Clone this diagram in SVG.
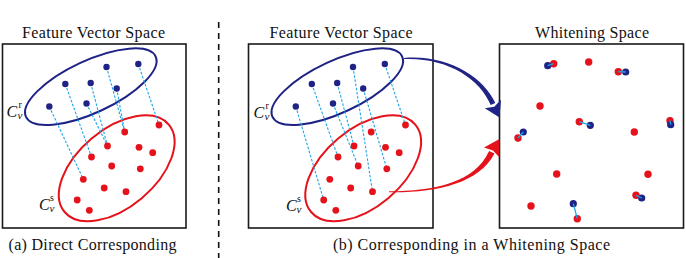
<svg xmlns="http://www.w3.org/2000/svg" xmlns:xlink="http://www.w3.org/1999/xlink" width="686" height="258" viewBox="0 0 686 258">
<style>
.box{fill:#fff;stroke:#1a1a1a;stroke-width:1.6}
text{font-family:'Liberation Serif','DejaVu Serif',serif;fill:#111}
.ttl{font-size:16px}
.cap{font-size:16px}
.it{font-style:italic}
.be{fill:none;stroke:#1f2385;stroke-width:2}
.re{fill:none;stroke:#e5121b;stroke-width:2}
.bd{fill:#1f2385}
.rd{fill:#e5121b}
.dl{stroke:#1ea5e9;stroke-width:1.1;stroke-dasharray:2.6 1.6;fill:none}
.sl{stroke:#1ea5e9;stroke-width:1.3;fill:none}
</style>
<defs>
<g id="ellipses">
<ellipse class="be" cx="90.8" cy="86.7" rx="71.5" ry="26" transform="rotate(-25 90.8 86.7)"/>
<ellipse class="re" cx="116.7" cy="168.3" rx="68" ry="39" transform="rotate(-40 116.7 168.3)"/>
</g>
<g id="dots">
<g class="bd">
<circle cx="49.3" cy="106.5" r="3.2"/><circle cx="65.3" cy="84" r="3.2"/><circle cx="90.7" cy="83" r="3.2"/>
<circle cx="86.5" cy="103.5" r="3.2"/><circle cx="106.5" cy="67" r="3.2"/><circle cx="116.7" cy="88.5" r="3.2"/>
<circle cx="138.3" cy="64" r="3.2"/>
</g>
<g class="rd">
<circle cx="159" cy="125" r="3.4"/><circle cx="124.7" cy="132" r="3.4"/><circle cx="107.5" cy="146" r="3.4"/>
<circle cx="139" cy="147.3" r="3.4"/><circle cx="152.7" cy="152.7" r="3.4"/><circle cx="91.5" cy="157" r="3.4"/>
<circle cx="111.7" cy="166" r="3.4"/><circle cx="140.3" cy="168.8" r="3.4"/><circle cx="83.3" cy="179.3" r="3.4"/>
<circle cx="104.2" cy="188" r="3.4"/><circle cx="126" cy="191.7" r="3.4"/><circle cx="77.2" cy="200" r="3.4"/>
<circle cx="89.3" cy="210.3" r="3.4"/>
</g>
</g>
</defs>

<!-- separator -->
<line x1="218.7" y1="22" x2="218.7" y2="258" stroke="#111" stroke-width="1.6" stroke-dasharray="6 5"/>

<!-- Panel (a) -->
<g id="panel-a">
<text class="ttl" x="93.5" y="37.5" text-anchor="middle" textLength="143" lengthAdjust="spacing">Feature Vector Space</text>
<rect class="box" x="2.5" y="44" width="183.5" height="184"/>
<use xlink:href="#ellipses"/>
<g id="corr-a">
<line class="dl" x1="49.3" y1="106.5" x2="83.3" y2="179.3"/>
<line class="dl" x1="65.3" y1="84" x2="91.5" y2="157"/>
<line class="dl" x1="90.7" y1="83" x2="107.5" y2="146"/>
<line class="dl" x1="86.5" y1="103.5" x2="107.5" y2="146"/>
<line class="dl" x1="106.5" y1="67" x2="124.7" y2="132"/>
<line class="dl" x1="116.7" y1="88.5" x2="124.7" y2="132"/>
<line class="dl" x1="138.3" y1="64" x2="159" y2="125"/>
</g>
<use xlink:href="#dots"/>
<text><tspan class="it" font-size="16" x="6.5" y="116.5">C</tspan><tspan class="it" font-size="11" x="17.5" y="118.5">v</tspan><tspan font-size="10" x="18.5" y="107.5">r</tspan></text>
<text><tspan class="it" font-size="16" x="39" y="210">C</tspan><tspan class="it" font-size="11" x="49.5" y="211.5">v</tspan><tspan font-size="10" x="50" y="201">s</tspan></text>
<text class="cap" x="92.5" y="249.5" text-anchor="middle" textLength="168" lengthAdjust="spacing">(a) Direct Corresponding</text>
</g>

<!-- Panel (b) feature space -->
<g id="panel-b">
<text class="ttl" x="341" y="37.5" text-anchor="middle" textLength="143" lengthAdjust="spacing">Feature Vector Space</text>
<rect class="box" x="248.5" y="44" width="184.5" height="184"/>
<g transform="translate(246.5,0)">
<use xlink:href="#ellipses"/>
<g id="corr-b">
<line class="dl" x1="49.3" y1="106.5" x2="77.2" y2="200"/>
<line class="dl" x1="65.3" y1="84" x2="91.5" y2="157"/>
<line class="dl" x1="90.7" y1="83" x2="107.5" y2="146"/>
<line class="dl" x1="86.5" y1="103.5" x2="111.7" y2="166"/>
<line class="dl" x1="106.5" y1="67" x2="126" y2="191.7"/>
<line class="dl" x1="116.7" y1="88.5" x2="140.3" y2="168.8"/>
<line class="dl" x1="138.3" y1="64" x2="159" y2="125"/>
</g>
<use xlink:href="#dots"/>
</g>
<text><tspan class="it" font-size="16" x="253.5" y="117.5">C</tspan><tspan class="it" font-size="11" x="264.5" y="119.5">v</tspan><tspan font-size="10" x="265.5" y="108.5">r</tspan></text>
<text><tspan class="it" font-size="16" x="286" y="211">C</tspan><tspan class="it" font-size="11" x="296.5" y="212.5">v</tspan><tspan font-size="10" x="297" y="202">s</tspan></text>
<text class="cap" x="471.5" y="249.5" text-anchor="middle" textLength="277" lengthAdjust="spacing">(b) Corresponding in a Whitening Space</text>
</g>

<!-- Whitening space -->
<g id="whitening">
<text class="ttl" x="592" y="37.5" text-anchor="middle" textLength="114" lengthAdjust="spacing">Whitening Space</text>
<rect class="box" x="499.5" y="44" width="184" height="184"/>
<g class="rd">
<circle cx="553.7" cy="63.7" r="3.7"/><circle cx="588.7" cy="62" r="3.7"/><circle cx="618.3" cy="71.7" r="3.7"/>
<circle cx="540" cy="106" r="3.7"/><circle cx="579.3" cy="121.7" r="3.7"/><circle cx="670" cy="120.7" r="3.7"/>
<circle cx="518" cy="138" r="3.7"/><circle cx="634.3" cy="132" r="3.7"/><circle cx="556.7" cy="174" r="3.7"/>
<circle cx="648" cy="174.3" r="3.7"/><circle cx="636" cy="195.3" r="3.7"/><circle cx="531" cy="206" r="3.7"/>
<circle cx="577.3" cy="218.7" r="3.7"/>
</g>
<g class="bd">
<circle cx="547.7" cy="65.7" r="3.6"/><circle cx="625.7" cy="72" r="3.6"/><circle cx="590.3" cy="125.3" r="3.6"/>
<circle cx="670.7" cy="124.7" r="3.6"/><circle cx="523.3" cy="132" r="3.6"/><circle cx="641.7" cy="198" r="3.6"/>
<circle cx="573.3" cy="203.7" r="3.6"/>
</g>
<g id="corr-w">
<line class="sl" x1="547.7" y1="65.7" x2="553.7" y2="63.7"/>
<line class="sl" x1="618.3" y1="71.7" x2="625.7" y2="72"/>
<line class="sl" x1="579.3" y1="121.7" x2="590.3" y2="125.3"/>
<line class="sl" x1="670" y1="120.7" x2="670.7" y2="124.7"/>
<line class="sl" x1="523.3" y1="132" x2="518" y2="138"/>
<line class="sl" x1="636" y1="195.3" x2="641.7" y2="198"/>
<line class="sl" x1="573.3" y1="203.7" x2="577.3" y2="218.7"/>
</g>
</g>

<!-- Connectors: mapping arrows -->
<g id="connectors">
<g id="arrow-blue" fill="#1f2385">
<path d="M404,59 C447,57.2 480.2,78.8 490.7,105 L495.3,103 C483.8,77.2 447,54 404,58 Z"/>
<path d="M499.5,117.5 L501,99.8 L494.3,106.7 L484.8,108.2 Z"/>
</g>
<g id="arrow-red" fill="#e5121b">
<path d="M389,192.2 C435,193 478.8,183.9 494.5,153.5 L489.1,150.9 C475.2,182.1 435,191 389,191.2 Z"/>
<path d="M499.5,139 L499.3,157.3 L493,150.5 L484,147.6 Z"/>
</g>
</g>
</svg>
